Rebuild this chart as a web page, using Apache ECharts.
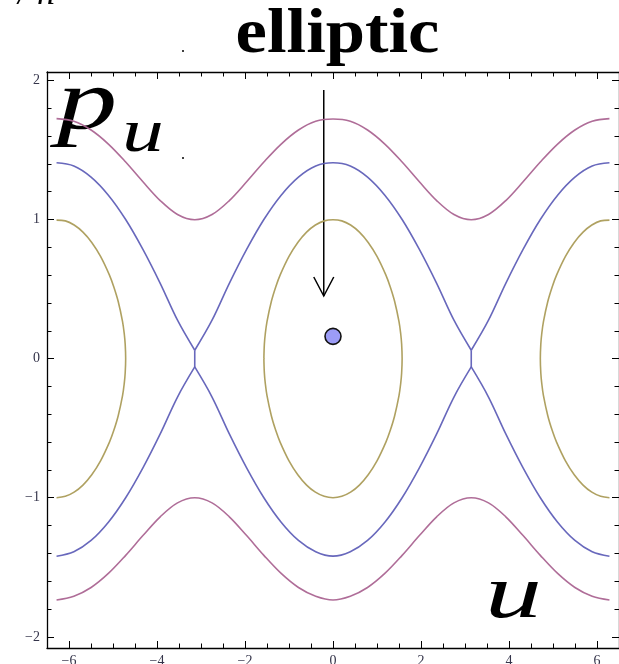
<!DOCTYPE html>
<html>
<head>
<meta charset="utf-8">
<script src="https://cdn.jsdelivr.net/npm/echarts@6/dist/echarts.min.js"></script>
<style>
  html, body { margin: 0; padding: 0; background: #ffffff; }
  #chart { width: 619px; height: 664px; }
</style>
</head>
<body>
<div id="chart"></div>
<script>
// Pendulum phase portrait: momentum p_u against angle u.

// Sample angles for the rotating orbits and the separatrix (steps of pi/8).
const uGrid = [-6.283, -5.890, -5.498, -5.105, -4.712, -4.320, -3.927, -3.534, -3.142,
  -2.749, -2.356, -1.963, -1.571, -1.178, -0.785, -0.393, 0,
  0.393, 0.785, 1.178, 1.571, 1.963, 2.356, 2.749, 3.142,
  3.534, 3.927, 4.320, 4.712, 5.105, 5.498, 5.890, 6.283];

// Rotating orbit (outermost curves).
const magentaUpper = [1.725, 1.706, 1.643, 1.542, 1.413, 1.271, 1.136, 1.036, 0.998,
  1.036, 1.136, 1.271, 1.413, 1.542, 1.643, 1.706, 1.722,
  1.706, 1.643, 1.542, 1.413, 1.271, 1.136, 1.036, 0.998,
  1.036, 1.136, 1.271, 1.413, 1.542, 1.643, 1.706, 1.725];
const magentaLower = [-1.735, -1.708, -1.645, -1.544, -1.414, -1.272, -1.137, -1.037, -1.000,
  -1.037, -1.137, -1.272, -1.414, -1.544, -1.645, -1.708, -1.735,
  -1.708, -1.645, -1.544, -1.414, -1.272, -1.137, -1.037, -1.000,
  -1.037, -1.137, -1.272, -1.414, -1.544, -1.645, -1.708, -1.735];

// Separatrix: nearly touches zero at the saddles u = ±pi.
const blueUpper = [1.408, 1.385, 1.305, 1.175, 1.000, 0.785, 0.541, 0.276, 0.060,
  0.276, 0.541, 0.785, 1.000, 1.175, 1.305, 1.385, 1.408,
  1.385, 1.305, 1.175, 1.000, 0.785, 0.541, 0.276, 0.060,
  0.276, 0.541, 0.785, 1.000, 1.175, 1.305, 1.385, 1.408];
const blueLower = [-1.420, -1.388, -1.307, -1.176, -1.000, -0.785, -0.541, -0.276, -0.060,
  -0.276, -0.541, -0.785, -1.000, -1.176, -1.307, -1.388, -1.420,
  -1.388, -1.307, -1.176, -1.000, -0.785, -0.541, -0.276, -0.060,
  -0.276, -0.541, -0.785, -1.000, -1.176, -1.307, -1.388, -1.420];
const saddleU = [-3.142, 3.142];
const saddleTop = 0.060;
const saddleBottom = -0.060;

// Librating orbit around u = 0.
const goldCenterU = [-1.571, -1.560, -1.540, -1.500, -1.400, -1.300, -1.200, -1.000, -0.800,
  -0.600, -0.400, -0.200, 0, 0.200, 0.400, 0.600, 0.800, 1.000, 1.200, 1.300, 1.400,
  1.500, 1.540, 1.560, 1.571];
const goldCenterUpper = [0, 0.104, 0.175, 0.266, 0.412, 0.517, 0.602, 0.735, 0.835,
  0.909, 0.960, 0.990, 0.998, 0.990, 0.960, 0.909, 0.835, 0.735, 0.602, 0.517, 0.412,
  0.266, 0.175, 0.104, 0];
const goldCenterLower = [0, -0.104, -0.175, -0.266, -0.412, -0.517, -0.602, -0.735, -0.835,
  -0.909, -0.960, -0.990, -1.000, -0.990, -0.960, -0.909, -0.835, -0.735, -0.602, -0.517, -0.412,
  -0.266, -0.175, -0.104, 0];

// Librating orbits around u = ±2pi (only the inner halves fall inside the frame).
const goldLeftU = [-6.283, -6.083, -5.883, -5.683, -5.483, -5.283, -5.083, -4.983, -4.883,
  -4.783, -4.743, -4.723, -4.712];
const goldRightU = [6.283, 6.083, 5.883, 5.683, 5.483, 5.283, 5.083, 4.983, 4.883,
  4.783, 4.743, 4.723, 4.712];
const goldSideUpper = [0.995, 0.990, 0.960, 0.909, 0.835, 0.735, 0.602, 0.517, 0.412,
  0.266, 0.175, 0.104, 0];
const goldSideLower = [-1.000, -0.990, -0.960, -0.909, -0.835, -0.735, -0.602, -0.517, -0.412,
  -0.266, -0.175, -0.104, 0];

// Stable equilibrium marker and the annotation arrow pointing at it.
const fixedPoint = [0, 0.16];
const arrowStart = [-0.21, 1.93];
const arrowEnd = [-0.21, 0.45];

// Axis ranges and tick positions.
const xRange = [-6.5, 6.5];
const yRange = [-2.08, 2.06];
const xMajorTicks = [-6, -4, -2, 0, 2, 4, 6];
const xMinorTicks = [-5.5, -5, -4.5, -3.5, -3, -2.5, -1.5, -1, -0.5,
  0.5, 1, 1.5, 2.5, 3, 3.5, 4.5, 5, 5.5];
const yMajorTicks = [-2, -1, 0, 1, 2];
const yMinorTicks = [-1.8, -1.6, -1.4, -1.2, -0.8, -0.6, -0.4, -0.2,
  0.2, 0.4, 0.6, 0.8, 1.2, 1.4, 1.6, 1.8];

const COLORS = { magenta: '#ab6592', blue: '#6060b8', gold: '#ab9c58' };
const SERIF = '"Liberation Serif", "DejaVu Serif", serif';

function pairs(us, ps) { return us.map((u, i) => [u, ps[i]]); }

function curve(data, color) {
  return {
    type: 'line', data, xAxisIndex: 0, yAxisIndex: 0,
    showSymbol: false, smooth: 0.35, silent: true, animation: false,
    lineStyle: { color, width: 1.6, opacity: 0.95 }
  };
}

// Split the full-width curves at the saddle points so each arch keeps its cusp.
const saddleIdx = [0, uGrid.indexOf(-3.142), uGrid.indexOf(3.142), uGrid.length - 1];
function arches(values, color) {
  const out = [];
  for (let s = 0; s < saddleIdx.length - 1; s++) {
    out.push(curve(pairs(uGrid.slice(saddleIdx[s], saddleIdx[s + 1] + 1),
      values.slice(saddleIdx[s], saddleIdx[s + 1] + 1)), color));
  }
  return out;
}

const centerLoop = pairs(goldCenterU, goldCenterUpper)
  .concat(pairs(goldCenterU, goldCenterLower).reverse().slice(1));
const leftArc = pairs(goldLeftU, goldSideUpper)
  .concat(pairs(goldLeftU, goldSideLower).reverse().slice(1));
const rightArc = pairs(goldRightU, goldSideUpper)
  .concat(pairs(goldRightU, goldSideLower).reverse().slice(1));

const series = [
  curve(pairs(uGrid, magentaUpper), COLORS.magenta),
  curve(pairs(uGrid, magentaLower), COLORS.magenta),
  ...arches(blueUpper, COLORS.blue),
  ...arches(blueLower, COLORS.blue),
  ...saddleU.map(u => curve([[u, saddleTop], [u, saddleBottom]], COLORS.blue)),
  curve(centerLoop, COLORS.gold),
  curve(leftArc, COLORS.gold),
  curve(rightArc, COLORS.gold),
  {
    type: 'scatter', data: [fixedPoint], symbolSize: 16, z: 10, silent: true, animation: false,
    itemStyle: { color: '#9c9cf6', borderColor: '#111111', borderWidth: 1.6, opacity: 1 }
  }
];

const AXIS_LINE = { color: '#000000', width: 1.3 };
const fmt = v => (v < 0 ? '\u2212' + Math.abs(v) : String(v));

function frameAxis(kind, position, ticks, len, withLine, withLabels) {
  const range = kind === 'x' ? xRange : yRange;
  return {
    type: 'value', position, min: range[0], max: range[1],
    axisLine: { show: withLine, onZero: false, lineStyle: AXIS_LINE },
    axisTick: { show: true, inside: true, length: len, customValues: ticks,
      lineStyle: { color: '#000000', width: 1 } },
    axisLabel: withLabels ? {
      show: true, customValues: ticks, formatter: fmt, fontFamily: SERIF,
      fontSize: 14, color: '#34344a', margin: kind === 'x' ? 6 : 7
    } : { show: false },
    splitLine: { show: false }, minorTick: { show: false }
  };
}

const chart = echarts.init(document.getElementById('chart'), null, { renderer: 'canvas' });

chart.setOption({
  animation: false,
  backgroundColor: '#ffffff',
  grid: { left: 47, right: 0, top: 72, bottom: 16, containLabel: false, outerBoundsMode: 'none' },
  xAxis: [
    frameAxis('x', 'bottom', xMajorTicks, 7, true, true),
    frameAxis('x', 'bottom', xMinorTicks, 4.5, false, false),
    frameAxis('x', 'top', xMajorTicks, 7, true, false),
    frameAxis('x', 'top', xMinorTicks, 4.5, false, false)
  ],
  yAxis: [
    frameAxis('y', 'left', yMajorTicks, 7, true, true),
    frameAxis('y', 'left', yMinorTicks, 4.5, false, false),
    frameAxis('y', 'right', yMajorTicks, 7, true, false),
    frameAxis('y', 'right', yMinorTicks, 4.5, false, false)
  ],
  series
});

// Annotations: title word, axis symbols and the arrow (placed from data coordinates).
const a0 = chart.convertToPixel({ gridIndex: 0 }, arrowStart);
const a1 = chart.convertToPixel({ gridIndex: 0 }, arrowEnd);

chart.setOption({
  graphic: [
    { type: 'text', x: 337.5, y: 36, scaleX: 1.12, silent: true,
      style: { text: 'elliptic', font: 'bold 63px ' + SERIF, fill: '#000000',
        align: 'center', verticalAlign: 'middle' } },
    { type: 'text', x: 57, y: 105, scaleX: 1.4, silent: true,
      style: { text: 'p', font: 'italic 86px ' + SERIF, fill: '#000000',
        align: 'left', verticalAlign: 'middle' } },
    { type: 'text', x: 122, y: 135, scaleX: 1.35, silent: true,
      style: { text: 'u', font: 'italic 62px ' + SERIF, fill: '#000000',
        align: 'left', verticalAlign: 'middle' } },
    { type: 'text', x: 485, y: 597, scaleX: 1.5, silent: true,
      style: { text: 'u', font: 'italic 76px ' + SERIF, fill: '#000000',
        align: 'left', verticalAlign: 'middle' } },
    { type: 'text', x: 18, y: -5, silent: true,
      style: { text: '/ n', font: 'italic 36px ' + SERIF, fill: '#000000',
        align: 'left', verticalAlign: 'middle' } },
    { type: 'circle', silent: true, shape: { cx: 183, cy: 51, r: 1 }, style: { fill: '#000000' } },
    { type: 'circle', silent: true, shape: { cx: 183, cy: 158, r: 1 }, style: { fill: '#000000' } },
    { type: 'line', silent: true,
      shape: { x1: a0[0], y1: a0[1], x2: a1[0], y2: a1[1] },
      style: { stroke: '#000000', lineWidth: 1.5 } },
    { type: 'polyline', silent: true,
      shape: { points: [[a1[0] - 10, a1[1] - 19], [a1[0], a1[1]], [a1[0] + 10, a1[1] - 19]] },
      style: { stroke: '#000000', lineWidth: 1.5, fill: null } }
  ]
});
</script>
</body>
</html>
